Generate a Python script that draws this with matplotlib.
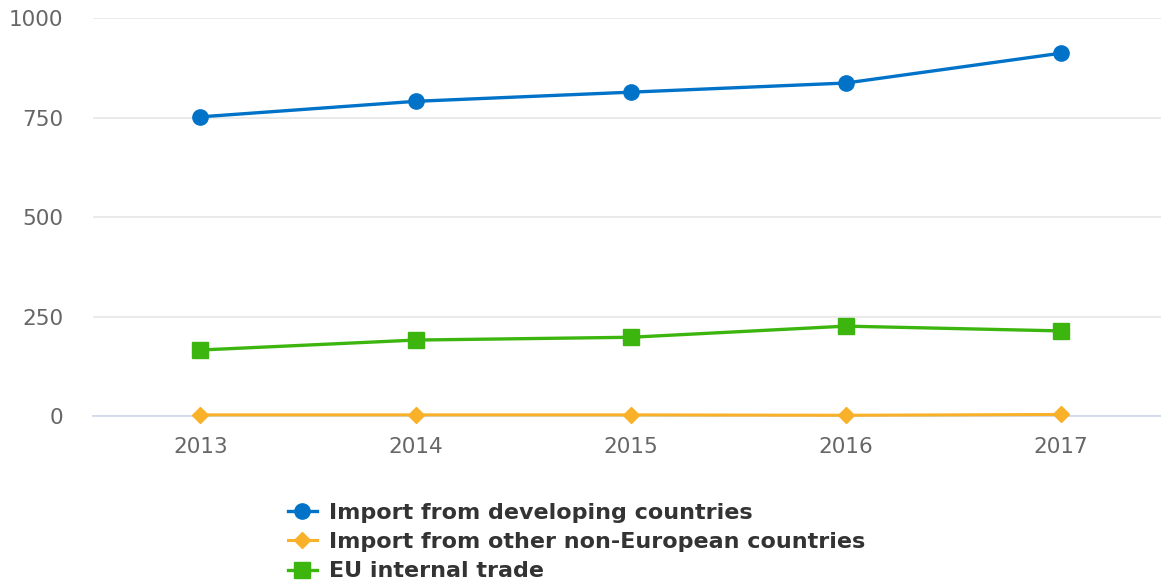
import matplotlib
matplotlib.use('Agg')
import matplotlib.pyplot as plt

years = [2013, 2014, 2015, 2016, 2017]
developing = [752, 791, 814, 837, 912]
other_non_eu = [3, 3, 3, 2, 4]
eu_internal = [166, 191, 198, 226, 214]
yticks = [0, 250, 500, 750, 1000]

fig = plt.figure(figsize=(11.61, 5.86), dpi=100)
ax = fig.add_axes([0.080, 0.290, 0.920, 0.679])

ax.plot(years, developing, color='#0073c8', lw=2.4, marker='o', ms=11,
        label='Import from developing countries', zorder=3)
ax.plot(years, other_non_eu, color='#f9b12a', lw=2.2, marker='D', ms=8,
        label='Import from other non-European countries', zorder=3)
ax.plot(years, eu_internal, color='#3cb60f', lw=2.4, marker='s', ms=11,
        label='EU internal trade', zorder=3)

ax.set_xlim(2012.5, 2017.465)
ax.set_ylim(0, 1000)
ax.set_yticks(yticks)
ax.set_xticks(years)
ax.set_xticklabels([str(y) for y in years])
ax.grid(axis='y', color='#e6e6e6', lw=1.2)
ax.set_axisbelow(True)
for s in ['top', 'right', 'left']:
    ax.spines[s].set_visible(False)
ax.spines['bottom'].set_color('#ccd6eb')
ax.spines['bottom'].set_linewidth(1.2)
ax.tick_params(axis='both', length=0, labelsize=15.5, colors='#666666')
ax.tick_params(axis='y', pad=21.5)
ax.tick_params(axis='x', pad=15)
for line in ax.get_lines():
    line.set_clip_on(False)

fig.legend(loc='upper left', bbox_to_anchor=(0.248, 0.142), frameon=False,
           prop={'weight': 'bold', 'size': 16}, labelcolor='#333333',
           handlelength=1.3, handletextpad=0.55, labelspacing=0.42,
           borderaxespad=0, borderpad=0)

fig.savefig('out.png', dpi=100)
